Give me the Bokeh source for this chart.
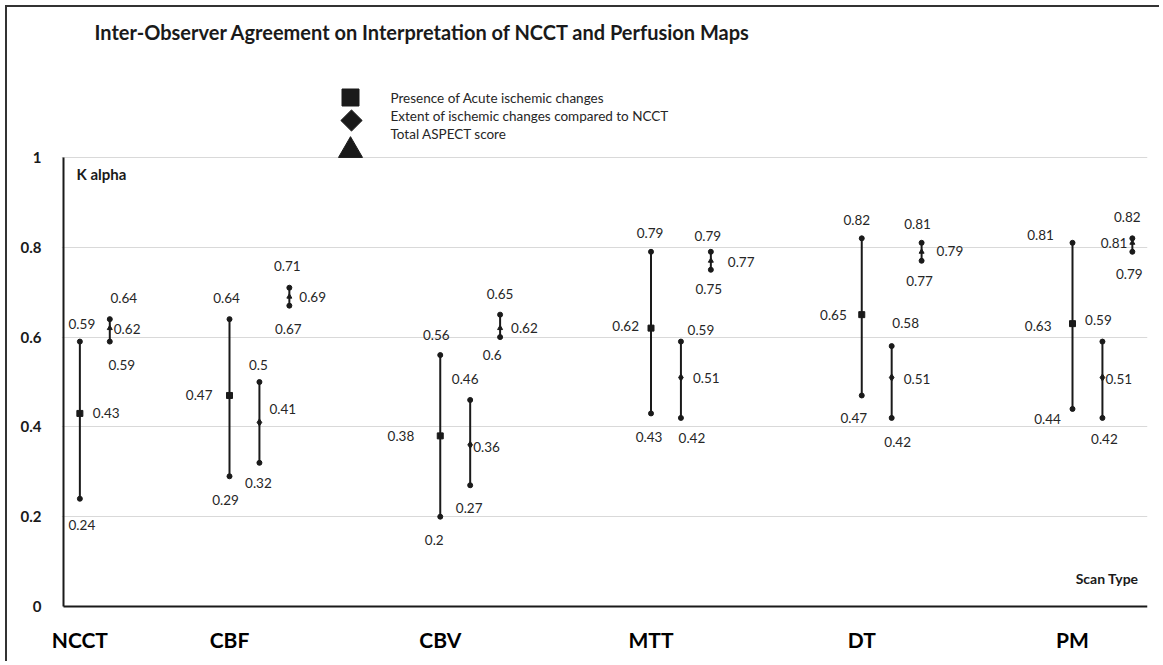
from bokeh.plotting import figure
from bokeh.models import Range1d, FixedTicker, NumeralTickFormatter, ColumnDataSource, Label
from bokeh.core.properties import value, field
from bokeh.embed import file_html
from bokeh.resources import INLINE

# ---------------- data ----------------
scans = ["NCCT", "CBF", "CBV", "MTT", "DT", "PM"]
scan_pos = [0.29, 1, 2, 3, 4, 5]

series_names = ["Presence of Acute ischemic changes",
                "Extent of ischemic changes compared to NCCT",
                "Total ASPECT score"]

presence_low = [0.24, 0.29, 0.20, 0.43, 0.47, 0.44]
presence_mid = [0.43, 0.47, 0.38, 0.62, 0.65, 0.63]
presence_high = [0.59, 0.64, 0.56, 0.79, 0.82, 0.81]

extent_low = [None, 0.32, 0.27, 0.42, 0.42, 0.42]
extent_mid = [None, 0.41, 0.36, 0.51, 0.51, 0.51]
extent_high = [None, 0.50, 0.46, 0.59, 0.58, 0.59]

total_low = [0.59, 0.67, 0.60, 0.75, 0.77, 0.79]
total_mid = [0.62, 0.69, 0.62, 0.77, 0.79, 0.81]
total_high = [0.64, 0.71, 0.65, 0.79, 0.81, 0.82]

y_ticks = [0, 0.2, 0.4, 0.6, 0.8, 1]

# ---------------- layout / style ----------------
FONT = "Lato"
INK = "#1a1a1a"
SLOT = 0.142
PX_X = 210.75          # pixels per scan-type step
AXIS_X_PX = 63         # page x of the value axis
AXIS_Y_PX = 606        # page y of the zero line
PX_Y = 449             # pixels per unit of K alpha
FRAME_L, FRAME_R, FRAME_T, FRAME_B = 61, 1147, 9, 608
CANVAS_X0, CANVAS_Y0 = 7, 7
W, H = 1154, 656

X_START = 1 - (229 - FRAME_L) / PX_X
X_END = X_START + (FRAME_R - FRAME_L) / PX_X
Y_START = -(FRAME_B - AXIS_Y_PX) / PX_Y
Y_END = (AXIS_Y_PX - FRAME_T) / PX_Y


def xd(px):
    return X_START + (px - FRAME_L) / PX_X


def yd(py):
    return (AXIS_Y_PX - py) / PX_Y


# label placement (pixels): high (dx, dy), mid (align, dx, dy), low (dx, dy)
LABEL_POS = {
    ("NCCT", 0): ((2, -18), ("left", 13, 0), (2, 26)),
    ("NCCT", 2): ((14, -21), ("left", 4, 1), (12, 23)),
    ("CBF", 0): ((-3, -21), ("right", -17, 0), (-4, 24)),
    ("CBF", 1): ((-1, -17), ("left", 10, -13), (-1, 20)),
    ("CBF", 2): ((-2, -22), ("left", 10, 0), (-1, 23)),
    ("CBV", 0): ((-4, -20), ("right", -26, 0), (-6, 23)),
    ("CBV", 1): ((-5, -21), ("left", 3, 2), (-1, 23)),
    ("CBV", 2): ((0, -21), ("left", 11, 0), (-8, 18)),
    ("MTT", 0): ((-1, -19), ("right", -12, -2), (-2, 24)),
    ("MTT", 1): ((20, -12), ("left", 12, 0), (11, 20)),
    ("MTT", 2): ((-3, -16), ("left", 17, 1), (-2, 19)),
    ("DT", 0): ((-5, -18), ("right", -15, 0), (-8, 23)),
    ("DT", 1): ((14, -23), ("left", 12, 1), (6, 24)),
    ("DT", 2): ((-4, -19), ("left", 15, -1), (-2, 20)),
    ("PM", 0): ((-32, -8), ("right", -21, 2), (-25, 10)),
    ("PM", 1): ((-4, -22), ("left", 3, 1), (2, 21)),
    ("PM", 2): ((-5, -21), ("right", -5, 0), (-3, 22)),
}

MID_MARKERS = [("square", 6), ("diamond", 7), ("triangle", 5)]

p = figure(width=W, height=H, output_backend="svg", toolbar_location=None,
           x_range=Range1d(X_START, X_END), y_range=Range1d(Y_START, Y_END),
           min_border_left=FRAME_L - CANVAS_X0, min_border_right=CANVAS_X0 + W - FRAME_R,
           min_border_top=FRAME_T - CANVAS_Y0, min_border_bottom=CANVAS_Y0 + H - FRAME_B)
p.styles = {"margin-left": "5px", "margin-top": "5px",
            "border-left": "2px solid #333333", "border-top": "2px solid #333333"}
p.outline_line_color = None

# axes (labels from Bokeh axes, axis rules drawn below as lines)
p.yaxis.ticker = FixedTicker(ticks=y_ticks)
p.yaxis.formatter = NumeralTickFormatter(format="0.[0]")
p.yaxis.axis_line_color = None
p.yaxis.major_tick_line_color = None
p.yaxis.minor_tick_line_color = None
p.yaxis.major_label_standoff = 14
p.yaxis.major_label_text_font = FONT
p.yaxis.major_label_text_font_style = "bold"
p.yaxis.major_label_text_font_size = "15px"
p.yaxis.major_label_text_color = INK

p.xaxis.ticker = FixedTicker(ticks=scan_pos)
p.xaxis.major_label_overrides = {pos: name for pos, name in zip(scan_pos, scans)}
p.xaxis.axis_line_color = None
p.xaxis.major_tick_line_color = None
p.xaxis.minor_tick_line_color = None
p.xaxis.major_label_standoff = 12
p.xaxis.major_label_text_font = FONT
p.xaxis.major_label_text_font_style = "bold"
p.xaxis.major_label_text_font_size = "21px"
p.xaxis.major_label_text_color = "black"

p.xgrid.visible = False
p.ygrid.ticker = FixedTicker(ticks=y_ticks[1:])
p.ygrid.grid_line_color = "#d9d9d9"
p.ygrid.grid_line_width = 1

# axis rules
p.segment(x0=[xd(AXIS_X_PX)], y0=[y_ticks[0]], x1=[xd(AXIS_X_PX)], y1=[y_ticks[-1]],
          line_color=INK, line_width=2)
p.segment(x0=[xd(AXIS_X_PX)], y0=[y_ticks[0]], x1=[X_END], y1=[y_ticks[0]],
          line_color=INK, line_width=2)

# series
series_data = [
    (presence_low, presence_mid, presence_high),
    (extent_low, extent_mid, extent_high),
    (total_low, total_mid, total_high),
]

lab = dict(x=[], y=[], t=[], dx=[], dy=[], align=[])
for si, (lows, mids, highs) in enumerate(series_data):
    xs, lo, mi, hi = [], [], [], []
    for ci, scan in enumerate(scans):
        if mids[ci] is None:
            continue
        slot = sum(1 for sj in range(si) if series_data[sj][1][ci] is not None)
        x = scan_pos[ci] + SLOT * slot
        xs.append(x)
        lo.append(lows[ci])
        mi.append(mids[ci])
        hi.append(highs[ci])
        (hdx, hdy), (malign, mdx, mdy), (ldx, ldy) = LABEL_POS[(scan, si)]
        for yv, dx_, dy_, al in ((highs[ci], hdx, hdy, "center"),
                                 (mids[ci], mdx, mdy, malign),
                                 (lows[ci], ldx, ldy, "center")):
            lab["x"].append(x)
            lab["y"].append(yv)
            lab["t"].append(f"{yv:g}")
            lab["dx"].append(dx_)
            lab["dy"].append(dy_)
            lab["align"].append(al)
    src = ColumnDataSource(dict(x=xs, lo=lo, mi=mi, hi=hi))
    p.segment(x0="x", y0="lo", x1="x", y1="hi", source=src, line_color=INK, line_width=2)
    p.scatter(x="x", y="lo", source=src, marker="circle", size=5, color=INK)
    p.scatter(x="x", y="hi", source=src, marker="circle", size=5, color=INK)
    mk, sz = MID_MARKERS[si]
    p.scatter(x="x", y="mi", source=src, marker=mk, size=sz, color=INK)

p.text(x="x", y="y", text="t", x_offset="dx", y_offset="dy", source=ColumnDataSource(lab),
       text_align=field("align"), text_baseline="middle", text_font=value(FONT),
       text_font_size="13.5px", text_color="#262626")

# legend (drawn manually to mimic the original's large key markers)
p.scatter(x=[xd(350)], y=[yd(97)], marker="square", size=17, color=INK)
p.scatter(x=[xd(351)], y=[yd(120)], marker="square", angle=0.7854, size=15, color=INK)
p.scatter(x=[xd(350)], y=[yd(150)], marker="triangle", size=24, color=INK)
for name, py in zip(series_names, [97, 115, 133]):
    p.add_layout(Label(x=xd(390), y=yd(py), text=name, text_font=FONT, text_font_size="13.5px",
                       text_baseline="middle", text_align="left", text_color="#262626"))

# titles
p.add_layout(Label(x=xd(94), y=yd(31),
                   text="Inter-Observer Agreement on Interpretation of NCCT and Perfusion Maps",
                   text_font=FONT, text_font_style="bold", text_font_size="20px",
                   text_baseline="middle", text_align="left", text_color="#1a1a1a"))
p.add_layout(Label(x=xd(76), y=yd(173), text="K alpha", text_font=FONT,
                   text_font_style="bold", text_font_size="15px",
                   text_baseline="middle", text_align="left", text_color="#1a1a1a"))
p.add_layout(Label(x=xd(1138), y=yd(578), text="Scan Type", text_font=FONT,
                   text_font_style="bold", text_font_size="14px",
                   text_baseline="middle", text_align="right", text_color="#1a1a1a"))

open("out.html", "w").write(file_html(p, INLINE))
